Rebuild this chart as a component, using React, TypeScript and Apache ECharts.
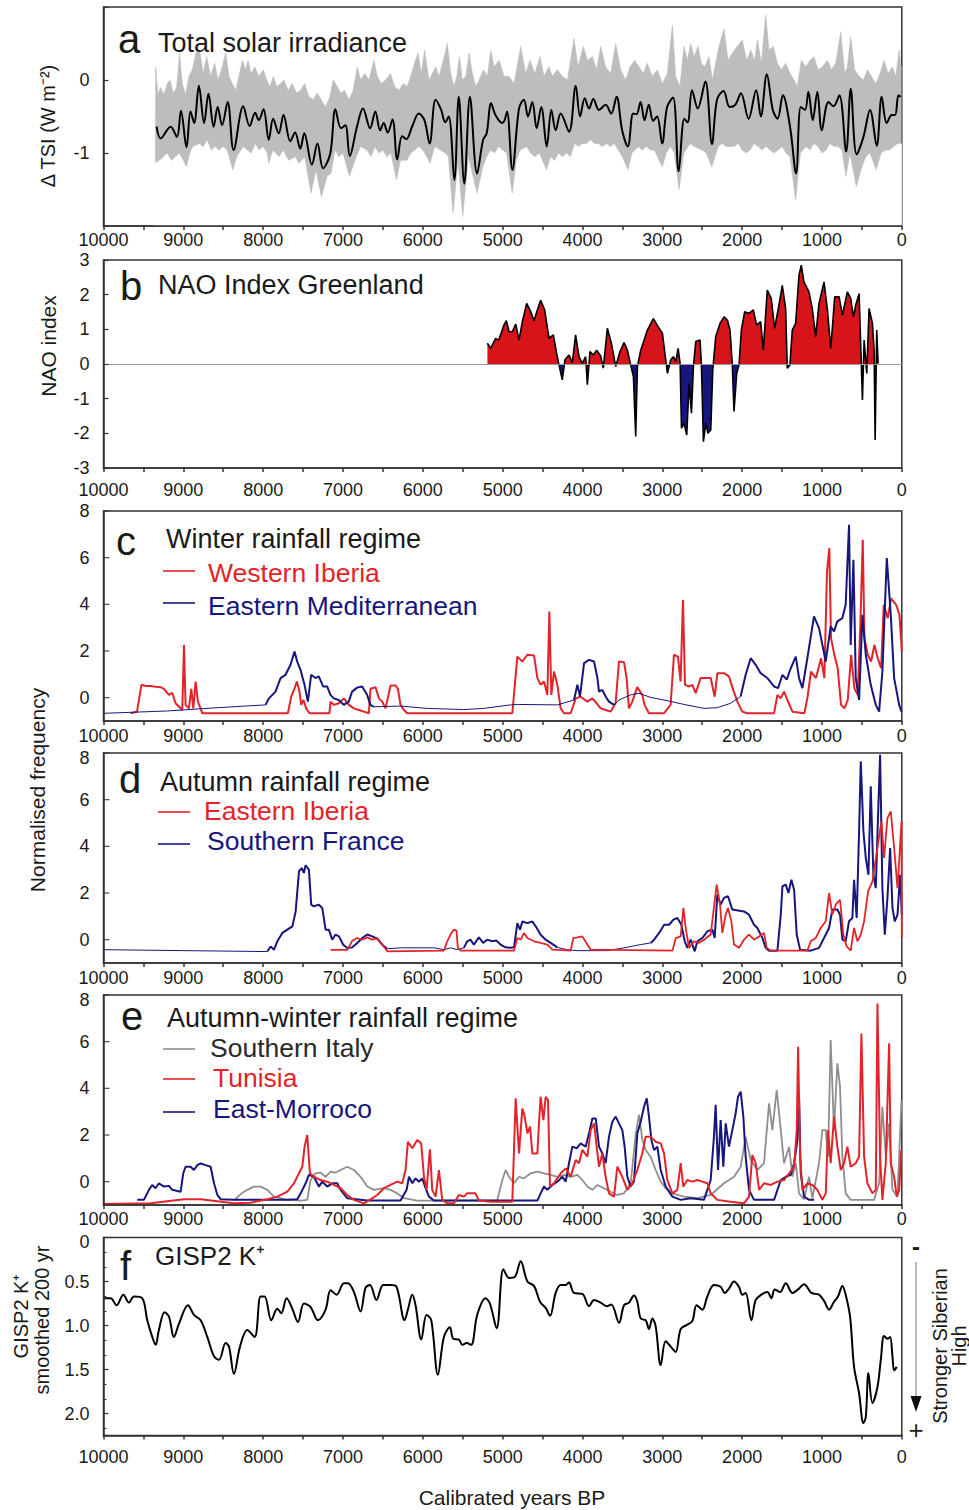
import React, { useEffect, useRef } from 'react';
import * as echarts from 'echarts';

// ---------------- DATA ----------------
// Panel a: Total solar irradiance (smoothed, and gray envelope)
const TSI_SMOOTH: number[][] = [[9335,-0.64],[9285,-0.80],[9160,-0.64],[9080,-0.78],[9030,-0.42],[8960,-0.92],[8910,-0.43],[8865,-0.59],[8805,-0.08],[8740,-0.59],[8685,-0.19],[8620,-0.64],[8570,-0.37],[8515,-0.62],[8445,-0.30],[8370,-0.96],[8250,-0.36],[8170,-0.63],[8100,-0.45],[8055,-0.55],[7995,-0.40],[7930,-0.82],[7875,-0.53],[7805,-0.73],[7745,-0.48],[7660,-0.84],[7600,-0.72],[7535,-0.94],[7485,-0.73],[7390,-1.16],[7320,-0.87],[7250,-1.21],[7160,-1.01],[7095,-0.40],[7025,-0.66],[6970,-0.62],[6915,-1.04],[6825,-0.64],[6750,-0.39],[6660,-0.66],[6595,-0.43],[6535,-0.69],[6490,-0.59],[6440,-0.72],[6380,-0.54],[6320,-1.09],[6260,-0.77],[6205,-0.81],[6135,-0.64],[6050,-0.46],[5980,-0.55],[5915,-0.87],[5840,-0.27],[5770,-0.41],[5720,-0.58],[5675,-0.50],[5605,-1.37],[5550,-0.23],[5480,-1.42],[5410,-0.23],[5320,-1.28],[5245,-0.82],[5200,-0.73],[5145,-0.32],[5090,-0.48],[5005,-0.59],[4975,-0.55],[4945,-0.43],[4878,-1.23],[4795,-0.39],[4733,-0.27],[4683,-0.50],[4628,-0.30],[4574,-0.66],[4516,-0.37],[4448,-0.91],[4390,-0.41],[4336,-0.69],[4273,-0.46],[4168,-0.71],[4085,-0.08],[4030,-0.50],[3972,-0.25],[3918,-0.39],[3864,-0.26],[3793,-0.41],[3710,-0.34],[3640,-0.46],[3573,-0.23],[3503,-0.69],[3432,-0.91],[3365,-0.46],[3323,-0.47],[3273,-0.30],[3223,-0.55],[3169,-0.34],[3115,-0.56],[3065,-0.50],[3002,-0.87],[2940,-0.37],[2865,-0.24],[2795,-1.25],[2724,-0.53],[2683,-0.58],[2628,-0.14],[2557,-0.39],[2461,-0.02],[2378,-0.88],[2315,-0.27],[2232,-0.15],[2157,-0.37],[2086,-0.34],[2015,-0.18],[1920,-0.53],[1824,-0.14],[1766,-0.50],[1691,0.08],[1616,-0.41],[1557,-0.53],[1490,-0.21],[1400,-0.64],[1325,-1.28],[1266,-0.37],[1212,-0.41],[1170,-0.16],[1116,-0.55],[1058,-0.16],[1003,-0.69],[919,-0.30],[857,-0.36],[782,-0.21],[697,-0.98],[640,-0.12],[565,-1.02],[481,-0.78],[398,-0.41],[314,-0.90],[252,-0.23],[189,-0.59],[126,-0.48],[84,-0.48],[42,-0.21],[13,-0.23]];

const TSI_UPPER: number[][] = [[9350,-1.10],[9347,0.18],[9318,-0.20],[9285,-0.10],[9243,-0.20],[9201,-0.05],[9168,0.00],[9126,-0.18],[9084,-0.10],[9047,0.37],[9013,-0.05],[8972,-0.20],[8930,0.05],[8888,0.14],[8834,0.41],[8792,0.37],[8750,0.09],[8709,0.32],[8658,0.05],[8608,0.23],[8566,0.00],[8524,0.14],[8470,0.37],[8428,0.05],[8387,-0.05],[8345,-0.14],[8303,0.05],[8261,0.27],[8219,0.14],[8190,0.27],[8148,0.09],[8107,0.18],[8053,0.05],[7998,0.14],[7957,0.00],[7915,-0.09],[7873,0.05],[7831,-0.09],[7781,-0.05],[7739,0.00],[7689,-0.14],[7635,-0.05],[7581,-0.18],[7531,-0.14],[7481,-0.05],[7426,-0.23],[7372,-0.27],[7322,-0.18],[7272,-0.27],[7218,-0.37],[7164,-0.23],[7122,0.00],[7072,-0.09],[7030,-0.18],[6980,-0.14],[6926,-0.27],[6872,-0.14],[6821,0.18],[6779,0.00],[6729,0.09],[6675,0.00],[6612,0.27],[6571,0.05],[6521,-0.05],[6466,0.00],[6404,0.09],[6354,-0.09],[6300,-0.14],[6245,-0.05],[6195,-0.09],[6153,0.05],[6103,0.23],[6061,0.37],[6019,0.09],[5977,0.41],[5923,0.00],[5881,0.09],[5839,0.18],[5797,0.05],[5743,0.27],[5693,0.50],[5651,0.09],[5609,-0.09],[5575,0.05],[5542,0.32],[5504,0.00],[5462,0.05],[5420,0.37],[5379,0.09],[5337,-0.09],[5295,0.00],[5241,0.14],[5191,0.05],[5149,0.41],[5107,0.18],[5044,0.27],[4982,0.05],[4920,0.05],[4858,-0.05],[4774,0.46],[4712,0.09],[4657,0.27],[4598,0.09],[4532,0.32],[4482,0.05],[4420,0.18],[4378,0.05],[4315,0.14],[4252,0.05],[4189,0.00],[4106,0.57],[4056,0.18],[3989,0.46],[3939,0.27],[3876,0.32],[3822,0.14],[3772,0.46],[3710,0.18],[3647,0.09],[3584,0.50],[3522,0.14],[3459,0.00],[3405,0.18],[3346,0.27],[3292,0.18],[3238,0.09],[3188,0.23],[3125,0.05],[3063,0.14],[3000,-0.05],[2937,0.09],[2874,0.75],[2833,0.05],[2779,-0.09],[2729,0.46],[2687,0.27],[2645,0.50],[2603,0.32],[2553,0.46],[2511,0.23],[2469,0.18],[2415,0.32],[2373,0.00],[2332,0.23],[2290,0.46],[2227,0.70],[2177,0.27],[2123,0.37],[2060,0.46],[1998,0.55],[1944,0.27],[1893,0.41],[1843,0.27],[1809,0.55],[1759,0.23],[1705,0.89],[1663,0.41],[1609,0.46],[1558,0.23],[1508,0.14],[1454,0.23],[1400,0.09],[1350,0.00],[1308,-0.09],[1258,0.27],[1203,0.18],[1149,0.27],[1099,0.32],[1049,0.14],[995,0.18],[932,0.27],[882,0.14],[828,0.23],[765,0.66],[715,0.09],[682,0.18],[640,0.59],[590,0.14],[535,0.05],[481,0.00],[431,0.14],[381,0.05],[326,-0.05],[272,0.09],[222,0.27],[172,0.09],[117,0.18],[75,0.05],[33,0.41],[4,0.14]];

const TSI_LOWER: number[][] = [[9365,-1.14],[9300,-1.10],[9250,-1.05],[9200,-1.00],[9150,-1.10],[9100,-1.05],[9050,-1.00],[9000,-1.10],[8960,-1.19],[8920,-1.00],[8880,-0.91],[8800,-0.87],[8750,-0.91],[8700,-0.82],[8650,-0.96],[8600,-0.91],[8550,-0.96],[8500,-0.91],[8450,-0.96],[8380,-1.23],[8330,-1.05],[8250,-0.91],[8200,-0.96],[8150,-1.00],[8100,-0.87],[8050,-0.96],[8000,-0.91],[7950,-1.00],[7930,-1.14],[7880,-0.96],[7800,-1.05],[7750,-0.96],[7680,-1.10],[7600,-1.05],[7550,-1.14],[7480,-1.05],[7400,-1.55],[7340,-1.23],[7270,-1.60],[7200,-1.32],[7150,-1.28],[7100,-0.96],[7050,-1.05],[7000,-1.00],[6920,-1.32],[6850,-1.10],[6780,-0.91],[6700,-0.96],[6650,-1.05],[6600,-0.91],[6550,-1.00],[6500,-0.96],[6450,-1.05],[6400,-1.00],[6330,-1.37],[6280,-1.10],[6200,-1.10],[6150,-1.00],[6100,-0.96],[6050,-0.91],[6000,-0.96],[5950,-1.05],[5910,-1.14],[5850,-0.91],[5780,-0.96],[5720,-1.00],[5680,-1.05],[5620,-1.83],[5560,-1.10],[5500,-1.87],[5430,-1.05],[5320,-1.55],[5250,-1.19],[5200,-1.05],[5150,-0.96],[5100,-1.00],[5050,-0.91],[5000,-0.96],[4950,-1.00],[4880,-1.55],[4830,-1.10],[4780,-0.96],[4700,-0.91],[4650,-1.00],[4600,-1.05],[4540,-1.00],[4450,-1.23],[4400,-1.05],[4350,-1.10],[4300,-1.00],[4250,-1.05],[4200,-1.00],[4150,-1.05],[4100,-0.87],[4050,-0.91],[4000,-0.87],[3950,-0.87],[3900,-0.82],[3850,-0.87],[3800,-0.87],[3750,-0.91],[3700,-0.87],[3650,-0.91],[3600,-0.87],[3550,-0.96],[3500,-1.05],[3430,-1.23],[3380,-1.00],[3300,-0.91],[3250,-0.96],[3200,-0.91],[3150,-0.96],[3100,-0.96],[3000,-1.19],[2950,-1.00],[2900,-0.91],[2850,-1.00],[2790,-1.50],[2730,-1.00],[2650,-0.87],[2600,-0.91],[2500,-0.96],[2450,-1.00],[2380,-1.19],[2300,-0.91],[2250,-0.87],[2200,-0.91],[2100,-0.91],[2050,-0.87],[2000,-0.96],[1950,-1.00],[1900,-0.96],[1850,-0.87],[1800,-0.91],[1750,-0.96],[1700,-0.91],[1650,-0.96],[1600,-1.00],[1550,-0.96],[1500,-0.91],[1450,-1.00],[1400,-1.05],[1330,-1.64],[1270,-1.00],[1200,-0.91],[1150,-0.96],[1100,-0.87],[1050,-0.91],[1000,-1.00],[950,-0.96],[900,-0.87],[850,-0.91],[800,-0.91],[750,-0.96],[700,-1.32],[650,-1.00],[570,-1.46],[500,-1.19],[450,-1.05],[400,-1.00],[320,-1.23],[260,-1.00],[200,-0.96],[150,-0.96],[100,-0.91],[50,-0.87],[0,-0.87]];

// Panel b: NAO index Greenland
const NAO: number[][] = [[5191,0.60],[5150,0.45],[5088,0.74],[5048,0.69],[4985,1.12],[4953,1.25],[4920,0.93],[4880,0.93],[4836,1.15],[4795,0.69],[4753,1.22],[4699,1.75],[4649,1.51],[4607,1.25],[4565,1.56],[4524,1.84],[4474,1.56],[4419,0.74],[4365,0.84],[4324,0.31],[4294,-0.03],[4253,-0.46],[4220,0.12],[4169,0.26],[4127,0.04],[4086,0.84],[4044,0.21],[4002,0.02],[3960,0.21],[3939,-0.60],[3906,0.36],[3864,0.26],[3822,0.40],[3772,0.23],[3739,-0.12],[3688,1.03],[3638,0.60],[3584,-0.07],[3530,0.36],[3479,0.62],[3438,0.40],[3396,-0.03],[3362,-0.36],[3333,-2.09],[3312,-0.07],[3270,0.40],[3187,0.98],[3112,1.31],[3040,1.03],[2998,0.88],[2936,-0.27],[2894,0.12],[2861,0.21],[2831,0.07],[2802,0.45],[2777,0.02],[2760,-1.85],[2727,-1.71],[2694,-2.05],[2664,-0.56],[2635,-1.42],[2610,-0.07],[2581,0.65],[2527,0.69],[2510,-0.03],[2485,-2.24],[2456,-1.71],[2427,-2.00],[2393,-1.90],[2368,-0.17],[2331,0.79],[2277,1.17],[2227,1.36],[2185,1.27],[2152,0.98],[2123,-0.03],[2102,-1.37],[2068,-0.27],[2039,-0.03],[2010,0.98],[1968,1.51],[1914,1.46],[1860,1.56],[1818,1.12],[1768,1.22],[1735,0.40],[1685,2.13],[1635,1.89],[1593,1.03],[1539,1.70],[1497,2.27],[1455,1.60],[1435,-0.12],[1401,-0.03],[1372,0.98],[1330,1.17],[1288,2.56],[1259,2.85],[1226,2.37],[1163,2.08],[1121,1.60],[1079,0.79],[1037,1.75],[974,2.37],[932,1.56],[890,0.45],[840,1.94],[786,1.94],[744,1.41],[682,2.08],[640,1.89],[606,1.36],[577,1.70],[535,2.03],[514,0.50],[493,-1.04],[472,0.69],[439,-0.27],[410,1.60],[368,1.17],[347,0.40],[334,-2.19],[314,0.98],[297,0.02]];

// Panel c: Winter rainfall regime
const WESTERN_IBERIA: number[][] = [[9661,-0.67],[9580,-0.60],[9525,0.55],[9470,0.50],[9410,0.50],[9347,0.47],[9285,0.45],[9243,0.38],[9180,0.12],[9139,0.21],[9097,-0.24],[9013,-0.53],[8992,2.26],[8972,-0.31],[8930,-0.46],[8900,0.38],[8875,-0.46],[8846,0.69],[8817,-0.17],[8792,-0.39],[8762,-0.67],[7690,-0.67],[7649,0.04],[7607,0.40],[7578,0.69],[7545,0.26],[7524,-0.31],[7495,-0.10],[7461,-0.46],[7420,-0.67],[7170,-0.67],[7156,-0.17],[7114,-0.31],[7052,-0.24],[6989,-0.03],[6926,-0.31],[6864,-0.46],[6801,-0.53],[6738,-0.60],[6676,-0.67],[6655,0.38],[6592,0.45],[6550,-0.03],[6508,-0.17],[6467,-0.46],[6404,0.52],[6341,0.52],[6312,0.38],[6279,-0.31],[6237,-0.53],[6195,-0.67],[4879,-0.67],[4816,1.76],[4753,1.55],[4690,1.84],[4607,1.81],[4565,0.84],[4524,0.55],[4482,0.69],[4440,0.12],[4415,3.69],[4390,0.12],[4357,1.12],[4315,0.55],[4273,-0.46],[4231,-0.67],[4148,-0.67],[4085,-0.03],[4023,0.04],[3939,-0.17],[3876,-0.03],[3822,-0.24],[3772,-0.46],[3710,-0.53],[3648,-0.60],[3585,-0.24],[3543,1.55],[3480,1.52],[3447,0.84],[3418,-0.46],[3376,-0.17],[3314,0.45],[3251,0.12],[3222,-0.31],[3168,-0.67],[2980,-0.67],[2896,-0.31],[2854,1.84],[2804,1.76],[2771,0.69],[2741,4.19],[2716,0.55],[2666,0.48],[2624,0.55],[2582,0.19],[2520,0.84],[2457,0.84],[2394,0.84],[2344,0.04],[2311,1.05],[2227,1.05],[2165,0.91],[2123,0.45],[2060,-0.17],[1998,-0.60],[1935,-0.67],[1600,-0.67],[1558,0.12],[1516,-0.03],[1475,0.26],[1433,-0.10],[1370,-0.60],[1220,-0.67],[1180,0.04],[1138,1.12],[1075,0.84],[1012,1.69],[970,0.84],[937,5.41],[908,6.41],[887,2.55],[845,1.84],[803,1.26],[761,-0.31],[719,-0.46],[677,-0.10],[635,1.84],[594,0.40],[552,0.12],[518,3.26],[489,6.77],[468,2.55],[426,1.84],[384,1.55],[343,2.26],[301,1.69],[259,1.26],[226,3.98],[176,3.41],[134,4.26],[71,3.98],[29,3.55],[0,2.00]];

const EAST_MED_THIN_1: number[][] = [[9995,-0.67],[9200,-0.57],[8575,-0.43],[7970,-0.31]];
const EAST_MED_THICK_1: number[][] = [[7970,-0.31],[7928,-0.03],[7845,0.26],[7782,0.84],[7720,0.98],[7657,1.41],[7607,1.98],[7574,1.55],[7532,1.19],[7482,0.55],[7440,-0.17],[7399,0.98],[7345,0.84],[7303,0.91],[7249,0.48],[7199,0.48],[7157,0.12],[7115,-0.03],[7053,-0.10],[6990,-0.31],[6928,-0.17],[6886,0.26],[6823,0.43],[6760,0.48],[6698,0.12],[6656,-0.31],[6614,-0.39]];
const EAST_MED_THIN_2: number[][] = [[6614,-0.39],[6280,-0.36],[5946,-0.46],[5487,-0.51],[5236,-0.46],[4902,-0.31],[4816,-0.29],[4315,-0.31],[4106,-0.10]];
const EAST_MED_THICK_2: number[][] = [[4106,-0.10],[4064,0.55],[4031,0.05],[3980,1.48],[3918,1.62],[3855,1.55],[3813,0.84],[3793,0.26],[3751,0.33],[3710,0.05],[3668,-0.17],[3605,-0.31]];
const EAST_MED_THIN_3: number[][] = [[3605,-0.31],[3543,-0.10],[3397,0.12],[3293,0.19],[3145,0.01],[2980,-0.10],[2727,-0.29],[2478,-0.46],[2311,-0.43],[2144,-0.24],[2019,0.05]];
const EAST_MED_THICK_3: number[][] = [[2019,0.05],[1956,0.98],[1893,1.69],[1830,1.41],[1768,1.05],[1684,0.84],[1600,0.48],[1550,0.41],[1495,0.98],[1441,0.77],[1391,1.26],[1328,1.76],[1287,0.84],[1245,0.41],[1183,1.69],[1100,3.48],[1037,2.98],[953,1.55],[891,3.05],[849,2.84],[807,3.27],[744,3.41],[703,3.98],[661,7.41],[640,2.26],[606,5.91],[577,0.84],[535,-0.10],[493,3.55],[451,1.84],[389,0.55],[326,-0.31],[284,-0.60],[243,1.12],[188,5.98],[138,3.55],[96,0.84],[33,-0.31],[4,-0.60]];

// Panel d: Autumn rainfall regime
const EASTERN_IBERIA: number[][] = [[7156,-0.44],[6947,-0.44],[6884,-0.05],[6821,0.07],[6759,0.00],[6696,0.10],[6634,0.00],[6571,0.07],[6508,-0.21],[6446,-0.50],[5736,-0.47],[5694,-0.07],[5653,0.22],[5611,0.43],[5578,0.39],[5561,-0.35],[5527,-0.47],[4857,-0.47],[4816,0.07],[4774,0.00],[4732,0.29],[4690,0.07],[4607,-0.07],[4524,-0.14],[4440,-0.21],[4377,-0.43],[4148,-0.47],[4114,0.07],[4064,0.10],[4002,0.14],[3939,-0.21],[3897,-0.43],[2873,-0.47],[2831,0.07],[2770,0.14],[2736,1.36],[2707,0.50],[2666,-0.35],[2603,-0.07],[2540,-0.14],[2478,0.00],[2394,0.22],[2344,1.64],[2319,2.36],[2277,1.50],[2248,0.29],[2206,1.07],[2177,1.36],[2135,0.79],[2102,-0.21],[2039,-0.35],[1977,0.00],[1914,0.22],[1851,0.00],[1788,0.14],[1726,0.29],[1692,-0.35],[1642,-0.47],[1183,-0.47],[1140,-0.07],[1079,0.07],[1016,0.50],[953,0.79],[911,2.00],[870,1.07],[828,1.50],[774,1.71],[732,0.21],[690,-0.29],[640,-0.47],[598,0.50],[556,-0.07],[514,0.21],[472,0.79],[422,2.07],[368,2.50],[305,3.93],[255,5.07],[222,3.50],[180,5.21],[138,5.50],[96,3.93],[54,2.21],[33,3.36],[4,5.07],[0,0.07]];

const S_FRANCE_THIN_1: number[][] = [[9995,-0.43],[8993,-0.47],[7948,-0.51]];
const S_FRANCE_THICK_1: number[][] = [[7948,-0.51],[7906,-0.29],[7864,-0.43],[7822,-0.07],[7760,0.29],[7697,0.43],[7634,0.57],[7593,1.21],[7551,2.93],[7518,3.07],[7490,2.86],[7469,3.19],[7427,3.00],[7398,1.50],[7365,1.43],[7302,1.50],[7260,1.36],[7218,0.43],[7177,0.43],[7135,0.00],[7093,0.22],[7051,0.14],[6997,-0.22],[6947,-0.36],[6884,-0.33],[6821,-0.14],[6759,0.07],[6696,0.22],[6634,0.14],[6571,0.04],[6508,-0.22],[6446,-0.39]];
const S_FRANCE_THIN_2: number[][] = [[6446,-0.39],[6279,-0.35],[5861,-0.35],[5736,-0.43],[5653,-0.35],[5569,-0.43],[5486,-0.35]];
const S_FRANCE_THICK_2: number[][] = [[5486,-0.35],[5444,-0.07],[5403,0.00],[5361,-0.21],[5298,0.10],[5244,-0.14],[5194,0.00],[5131,-0.07],[5077,-0.04],[5027,-0.21],[4965,-0.33],[4902,-0.35],[4857,-0.33],[4816,0.71],[4782,0.43],[4753,0.78],[4690,0.71],[4628,0.78],[4586,0.57],[4524,0.21],[4461,0.00],[4398,-0.14],[4315,-0.33]];
const S_FRANCE_THIN_3: number[][] = [[4315,-0.33],[4189,-0.43],[4064,-0.47],[3897,-0.47],[3688,-0.47],[3479,-0.35],[3270,-0.21],[3145,-0.14]];
const S_FRANCE_THICK_3: number[][] = [[3145,-0.14],[3103,0.00],[3040,0.29],[2977,0.64],[2915,0.64],[2861,0.86],[2811,0.93],[2761,0.64],[2719,-0.07],[2686,-0.35],[2645,0.00],[2594,-0.50],[2561,-0.07],[2499,0.07],[2436,0.36],[2373,0.43],[2344,0.07],[2311,1.93],[2269,1.50],[2227,1.79],[2177,1.86],[2123,1.29],[1977,1.21],[1914,1.07],[1851,0.64],[1809,0.50],[1746,0.07],[1705,-0.35],[1663,-0.47],[1558,-0.47],[1516,1.07],[1495,2.29],[1453,2.36],[1420,2.00],[1383,2.57],[1349,2.14],[1316,0.21],[1274,-0.43],[1140,-0.47],[1037,-0.35],[974,0.07],[911,0.50],[870,1.29],[807,1.29],[774,1.07],[744,0.00],[703,-0.07],[661,0.79],[619,0.93],[598,2.57],[565,0.93],[535,4.64],[514,7.64],[481,4.64],[451,3.50],[418,2.78],[389,6.57],[356,2.78],[326,2.21],[297,5.36],[272,7.92],[243,2.21],[213,0.21],[180,1.79],[146,3.93],[117,1.36],[88,0.78],[54,1.07],[21,2.78],[0,1.07]];

// Panel e: Autumn-winter rainfall regime
const SOUTHERN_ITALY: number[][] = [[8366,-0.81],[8282,-0.53],[8199,-0.35],[8115,-0.21],[8032,-0.21],[7948,-0.35],[7865,-0.64],[7697,-0.78],[7530,-0.81],[7448,-0.78],[7406,0.07],[7343,0.36],[7281,0.39],[7218,0.21],[7155,0.43],[7093,0.39],[7030,0.50],[6947,0.64],[6863,0.50],[6780,0.21],[6696,-0.21],[6613,-0.35],[6488,-0.28],[6404,-0.35],[6321,-0.50],[6237,-0.71],[6070,-0.81],[5444,-0.81],[5069,-0.81],[5004,0.07],[4962,0.50],[4920,0.21],[4858,-0.07],[4795,0.21],[4733,0.14],[4649,0.36],[4565,0.43],[4482,0.36],[4398,0.29],[4315,0.21],[4231,0.29],[4148,0.21],[4064,0.29],[4002,0.07],[3939,-0.21],[3876,-0.35],[3813,-0.14],[3730,-0.28],[3647,-0.43],[3563,-0.57],[3480,-0.50],[3396,-0.07],[3334,2.00],[3292,2.86],[3250,1.79],[3209,1.36],[3146,1.07],[3083,0.50],[3020,0.00],[2958,-0.28],[2874,-0.50],[2728,-0.64],[2561,-0.71],[2394,-0.57],[2227,-0.07],[2102,0.21],[2018,0.64],[1956,1.93],[1893,0.93],[1809,0.50],[1726,0.79],[1663,3.36],[1621,2.21],[1567,3.93],[1516,2.21],[1475,0.79],[1412,1.50],[1370,0.21],[1328,0.79],[1287,-0.50],[1224,-0.76],[1162,0.21],[1120,-0.71],[1037,0.79],[995,2.21],[953,2.21],[924,1.07],[891,6.07],[849,2.21],[807,5.07],[774,4.07],[744,1.07],[703,-0.50],[640,-0.78],[347,-0.78],[284,-0.07],[243,3.21],[200,1.07],[159,2.50],[117,-0.35],[54,-0.64],[4,3.50]];

const TUNISIA: number[][] = [[10000,-0.96],[9410,-0.93],[9201,-0.84],[8992,-0.75],[8783,-0.75],[8574,-0.84],[8366,-0.93],[8157,-0.90],[7948,-0.75],[7823,-0.64],[7697,-0.43],[7614,-0.07],[7551,0.36],[7510,0.64],[7481,1.50],[7448,2.00],[7414,0.36],[7364,0.21],[7281,0.07],[7197,0.00],[7114,-0.14],[7030,-0.28],[6947,-0.57],[6863,-0.78],[6738,-0.93],[6655,-0.76],[6571,-0.57],[6488,-0.28],[6404,-0.14],[6321,0.00],[6258,-0.07],[6216,0.50],[6187,1.71],[6132,1.43],[6070,1.79],[6020,1.64],[5986,0.21],[5953,-0.35],[5911,1.39],[5882,-0.35],[5840,-0.64],[5798,0.50],[5757,-0.78],[5694,-0.93],[5611,-0.93],[5548,-0.57],[5486,-0.64],[5444,-0.50],[5340,-0.50],[5298,-0.81],[5150,-0.86],[4879,-0.86],[4837,3.57],[4795,1.21],[4753,3.14],[4724,2.79],[4690,2.07],[4657,2.36],[4628,1.21],[4565,1.21],[4545,2.50],[4524,3.64],[4490,2.64],[4461,3.64],[4432,3.50],[4407,-0.21],[4357,-0.07],[4273,0.36],[4210,0.57],[4148,0.21],[4085,0.93],[4044,0.79],[4002,1.36],[3939,1.07],[3897,2.21],[3855,2.50],[3822,1.50],[3793,0.64],[3751,1.21],[3710,0.21],[3668,-0.50],[3605,-0.64],[3563,0.64],[3501,0.21],[3438,-0.35],[3376,-0.07],[3313,0.50],[3251,1.21],[3209,1.93],[3146,1.93],[3083,1.71],[3020,1.64],[2978,1.21],[2937,0.07],[2874,-0.50],[2812,-0.35],[2770,0.79],[2737,-0.21],[2687,0.07],[2624,0.00],[2561,0.07],[2499,0.00],[2436,-0.07],[2394,-0.50],[2311,-0.78],[2144,-0.86],[1977,-0.93],[1914,-0.64],[1872,1.14],[1830,0.79],[1788,-0.35],[1726,-0.07],[1642,-0.14],[1558,0.00],[1475,0.07],[1412,0.36],[1349,0.64],[1316,2.21],[1299,5.78],[1274,1.07],[1245,-0.35],[1183,-0.07],[1120,-0.14],[1058,-0.35],[995,-0.78],[953,-0.50],[924,2.21],[891,0.79],[849,2.79],[807,1.50],[765,0.50],[723,0.79],[682,1.50],[640,0.64],[577,0.79],[535,1.07],[506,6.35],[472,1.07],[431,-0.07],[368,-0.50],[326,-0.35],[305,7.64],[272,1.07],[243,-0.78],[201,0.79],[159,5.93],[138,0.79],[96,0.21],[63,-0.64],[33,-0.35],[8,1.36]];

const EAST_MOROCCO: number[][] = [[9577,-0.78],[9494,-0.78],[9431,-0.35],[9390,-0.14],[9348,-0.28],[9306,-0.07],[9243,-0.21],[9180,-0.18],[9139,-0.35],[9034,-0.43],[9001,0.36],[8972,0.64],[8909,0.64],[8867,0.50],[8825,0.71],[8783,0.78],[8721,0.71],[8658,0.64],[8616,-0.07],[8574,-0.57],[8533,-0.75],[8366,-0.78],[7948,-0.78],[7697,-0.78],[7572,-0.75],[7530,-0.50],[7468,-0.07],[7427,0.29],[7364,0.21],[7302,-0.21],[7260,0.00],[7197,-0.21],[7135,-0.07],[7072,-0.07],[7030,-0.35],[6947,-0.71],[6696,-0.81],[6279,-0.81],[6203,-0.35],[6174,0.21],[6132,-0.07],[6091,0.14],[6049,0.00],[6007,0.14],[5965,-0.28],[5923,-0.64],[5861,-0.81],[5150,-0.81],[4565,-0.81],[4524,-0.50],[4482,-0.21],[4440,-0.35],[4377,-0.14],[4315,0.00],[4252,0.21],[4210,0.00],[4169,0.79],[4127,1.50],[4073,1.43],[4023,1.64],[3960,1.50],[3918,2.07],[3876,2.71],[3834,2.71],[3793,1.50],[3751,1.21],[3710,0.79],[3668,1.93],[3626,2.57],[3584,2.79],[3543,2.50],[3501,2.21],[3472,1.50],[3438,0.21],[3396,-0.21],[3355,0.00],[3313,2.07],[3271,2.57],[3229,3.21],[3195,3.57],[3167,2.79],[3137,1.79],[3104,1.36],[3062,1.50],[3020,0.50],[2958,-0.21],[2874,-0.64],[2770,-0.78],[2645,-0.71],[2478,-0.78],[2394,0.07],[2353,1.93],[2332,3.29],[2302,0.50],[2269,2.64],[2236,0.64],[2206,2.50],[2165,1.50],[2123,2.21],[2081,2.93],[2052,3.64],[2018,3.86],[1985,2.79],[1956,1.07],[1914,-0.35],[1851,-0.78],[1600,-0.78],[1516,0.07],[1453,0.21],[1391,0.29],[1349,0.79],[1307,1.79],[1287,3.64],[1266,0.36],[1224,-0.64],[1162,-0.78],[1099,-0.78]];

// Panel f: GISP2 K+ smoothed 200 yr
const GISP2_K: number[][] = [[9995,0.69],[9911,0.69],[9836,0.77],[9752,0.65],[9681,0.74],[9619,0.67],[9514,0.69],[9452,0.94],[9389,1.13],[9347,1.22],[9306,1.05],[9235,0.85],[9180,0.90],[9118,1.13],[9055,0.98],[8942,0.77],[8867,0.88],[8783,0.94],[8700,1.13],[8616,1.35],[8553,1.39],[8470,1.20],[8428,1.24],[8366,1.55],[8290,1.24],[8199,1.05],[8107,1.13],[8032,0.67],[7982,0.67],[7898,0.94],[7823,0.81],[7773,0.86],[7706,0.69],[7635,0.81],[7564,0.96],[7489,0.75],[7406,0.79],[7314,0.94],[7218,0.82],[7155,0.60],[7080,0.65],[6988,0.52],[6938,0.52],[6863,0.62],[6780,0.84],[6717,0.57],[6663,0.54],[6580,0.71],[6496,0.54],[6404,0.54],[6329,0.56],[6229,0.94],[6187,0.82],[6132,0.65],[6091,0.77],[6019,1.16],[5953,0.88],[5894,0.94],[5811,1.56],[5736,1.13],[5661,1.02],[5619,1.15],[5548,1.16],[5506,1.22],[5452,1.20],[5394,1.22],[5319,0.88],[5215,0.69],[5160,0.75],[5075,1.03],[4991,0.36],[4920,0.46],[4849,0.45],[4774,0.27],[4690,0.50],[4607,0.55],[4532,0.73],[4461,0.80],[4407,0.89],[4336,0.63],[4273,0.54],[4211,0.54],[4169,0.51],[4106,0.63],[4002,0.64],[3918,0.78],[3855,0.71],[3772,0.74],[3697,0.78],[3639,0.76],[3542,0.97],[3480,0.77],[3417,0.74],[3355,0.66],[3313,0.73],[3271,0.92],[3209,0.94],[3167,1.04],[3125,0.92],[3083,1.01],[3020,1.45],[2958,1.18],[2895,1.24],[2833,1.30],[2770,1.04],[2687,0.99],[2624,0.95],[2570,0.77],[2499,0.82],[2436,0.67],[2353,0.54],[2269,0.56],[2219,0.63],[2165,0.58],[2102,0.50],[2040,0.56],[1998,0.65],[1956,0.63],[1885,0.94],[1830,0.71],[1759,0.65],[1684,0.62],[1634,0.69],[1592,0.59],[1525,0.62],[1454,0.52],[1370,0.63],[1299,0.59],[1224,0.53],[1133,0.63],[1037,0.65],[974,0.72],[911,0.82],[849,0.73],[799,0.67],[744,0.55],[703,0.65],[648,0.90],[598,1.47],[535,1.77],[481,2.11],[451,2.04],[418,1.54],[368,1.88],[305,1.70],[263,1.39],[222,1.12],[180,1.15],[146,1.13],[117,1.35],[96,1.51],[63,1.47]];

// Tick label values
const YEAR_TICKS = [10000, 9000, 8000, 7000, 6000, 5000, 4000, 3000, 2000, 1000, 0];
const TSI_TICKS = [-1, 0];
const FREQ_TICKS = [0, 2, 4, 6, 8];

// ---------------- STYLE / LAYOUT ----------------
const FONT = '"Liberation Sans", Arial, Helvetica, sans-serif';
const RED = '#e2242a';
const NAO_RED = '#d8141b';
const NAVY = '#17167c';
const GRAY = '#8e8e8e';
const BAND = '#bdbdbd';
const AXIS = '#333';
const TXT = '#1a1a1a';

const LEFT = 103.5;
const WIDTH = 798.3;
const GRIDS = [
  { top: 7, height: 219, labelMargin: 5 },
  { top: 260, height: 208, labelMargin: 13 },
  { top: 511, height: 210, labelMargin: 6 },
  { top: 753, height: 210, labelMargin: 6 },
  { top: 995, height: 210, labelMargin: 5 },
  { top: 1237.5, height: 198, labelMargin: 12 },
];

function xAxisFor(i: number) {
  return {
    type: 'value', gridIndex: i, min: 0, max: 10000, inverse: true, interval: 500,
    z: 5,
    axisLine: { show: true, onZero: false, lineStyle: { color: AXIS, width: 1.5 } },
    axisTick: { show: true, inside: false, length: 4, lineStyle: { color: AXIS, width: 1.5 } },
    axisLabel: {
      show: true, fontSize: 18, color: TXT, fontFamily: FONT, margin: GRIDS[i].labelMargin,
      formatter: (v: number) => (YEAR_TICKS.indexOf(Math.round(v)) >= 0 ? String(Math.round(v)) : ''),
    },
    splitLine: { show: false },
  };
}

const yBase = {
  type: 'value', z: 5,
  axisLine: { show: true, onZero: false, lineStyle: { color: AXIS, width: 1.5 } },
  splitLine: { show: false },
};
// the topmost tick label of a panel sits a little lower, as in the reference
const yLabel = {
  fontSize: 18, color: TXT, fontFamily: FONT, margin: 14,
  rich: { t: { fontSize: 18, color: TXT, fontFamily: FONT, padding: [9, 0, 0, 0] } },
};
const yTick = { show: true, inside: true, length: 5, lineStyle: { color: AXIS, width: 1.2 } };

function lineSeries(data: number[][], grid: number, color: string, width: number, extra: any = {}) {
  return {
    type: 'line', data, xAxisIndex: grid, yAxisIndex: grid,
    showSymbol: false, symbol: 'none', silent: true, animation: false,
    lineStyle: { color, width }, itemStyle: { color },
    ...extra,
  };
}

// inward tick marks at the labelled frequency values (drawn through the axes)
function tickSeries(grid: number) {
  return {
    type: 'scatter', xAxisIndex: grid, yAxisIndex: grid, silent: true, animation: false, clip: false, z: 6,
    data: FREQ_TICKS.map((v) => [10000, v]),
    symbol: 'rect', symbolSize: [6, 1.3], symbolOffset: [3, 0],
    itemStyle: { color: AXIS },
  };
}

function txt(text: string, x: number, y: number, size: number, color = TXT, extra: any = {}) {
  return {
    type: 'text', x, y, silent: true, z: 100,
    style: { text, fill: color, fontSize: size, fontFamily: FONT, align: 'left', verticalAlign: 'middle', ...(extra.style || {}) },
    ...(extra.rotation !== undefined ? { rotation: extra.rotation } : {}),
  };
}
function seg(x1: number, x2: number, y: number, color: string) {
  return { type: 'line', silent: true, z: 100, shape: { x1, y1: y, x2, y2: y }, style: { stroke: color, lineWidth: 1.6 } };
}

export default function App() {
  const ref = useRef<HTMLDivElement>(null);
  useEffect(() => {
    if (!ref.current) return;
    const chart = echarts.init(ref.current, undefined, { renderer: 'svg' });

    const gb = GRIDS[1];
    const naoFill = new echarts.graphic.LinearGradient(0, gb.top, 0, gb.top + gb.height, [
      { offset: 0, color: NAO_RED }, { offset: 0.5, color: NAO_RED },
      { offset: 0.5, color: NAVY }, { offset: 1, color: NAVY },
    ], true);

    const series: any[] = [];
    // panel a
    series.push(lineSeries(TSI_UPPER, 0, BAND, 0.6, { areaStyle: { color: BAND, opacity: 1, origin: 'start' } }));
    series.push(lineSeries(TSI_LOWER, 0, BAND, 0.6, { areaStyle: { color: '#ffffff', opacity: 1, origin: 'start' } }));
    series.push(lineSeries(TSI_SMOOTH, 0, '#000', 2, { smooth: 0.35 }));
    // panel b
    series.push(lineSeries(NAO, 1, '#000', 1.6, {
      areaStyle: { color: naoFill, opacity: 1, origin: 0 },
      markLine: {
        silent: true, symbol: ['none', 'none'], label: { show: false },
        lineStyle: { color: '#9a9a9a', width: 1, type: 'solid' },
        data: [{ yAxis: 0 }],
      },
    }));
    // panel c
    series.push(lineSeries(WESTERN_IBERIA, 2, RED, 2));
    series.push(lineSeries(EAST_MED_THIN_1, 2, NAVY, 1));
    series.push(lineSeries(EAST_MED_THICK_1, 2, NAVY, 2));
    series.push(lineSeries(EAST_MED_THIN_2, 2, NAVY, 1));
    series.push(lineSeries(EAST_MED_THICK_2, 2, NAVY, 2));
    series.push(lineSeries(EAST_MED_THIN_3, 2, NAVY, 1));
    series.push(lineSeries(EAST_MED_THICK_3, 2, NAVY, 2));
    series.push(tickSeries(2));
    // panel d
    series.push(lineSeries(S_FRANCE_THIN_1, 3, NAVY, 1));
    series.push(lineSeries(S_FRANCE_THICK_1, 3, NAVY, 2));
    series.push(lineSeries(S_FRANCE_THIN_2, 3, NAVY, 1));
    series.push(lineSeries(S_FRANCE_THICK_2, 3, NAVY, 2));
    series.push(lineSeries(S_FRANCE_THIN_3, 3, NAVY, 1));
    series.push(lineSeries(S_FRANCE_THICK_3, 3, NAVY, 2));
    series.push(lineSeries(EASTERN_IBERIA, 3, RED, 1.8));
    series.push(tickSeries(3));
    // panel e
    series.push(lineSeries(SOUTHERN_ITALY, 4, GRAY, 1.8));
    series.push(lineSeries(EAST_MOROCCO, 4, NAVY, 2));
    series.push(lineSeries(TUNISIA, 4, RED, 2));
    series.push(tickSeries(4));
    // panel f
    series.push(lineSeries(GISP2_K, 5, '#000', 2, { smooth: 0.35 }));

    const yAxes: any[] = [
      { ...yBase, gridIndex: 0, min: -2, max: 1, interval: 1,
        axisTick: { ...yTick },
        axisLabel: { ...yLabel, formatter: (v: number) => (TSI_TICKS.indexOf(v) >= 0 ? String(v) : '') } },
      { ...yBase, gridIndex: 1, min: -3, max: 3, interval: 1,
        axisTick: { ...yTick }, axisLabel: { ...yLabel, formatter: (v: number) => String(v) } },
      ...[2, 3, 4].map((g) => ({
        ...yBase, gridIndex: g, min: -1, max: 8, interval: 1,
        axisTick: { show: false },
        axisLabel: { ...yLabel, formatter: (v: number) => {
          if (FREQ_TICKS.indexOf(v) < 0) return '';
          return v === 8 && g > 2 ? '{t|8}' : String(v);
        } },
      })),
      { ...yBase, gridIndex: 5, min: 0, max: 2.25, interval: 0.5, inverse: true,
        axisTick: { ...yTick },
        minorTick: { show: true, splitNumber: 3, length: 3, lineStyle: { color: AXIS, width: 1 } },
        axisLabel: { ...yLabel, formatter: (v: number) => {
          if (Math.abs(v * 2 - Math.round(v * 2)) > 1e-6) return '';
          return v === 0 ? '{t|0}' : v.toFixed(1);
        } } },
    ];

    const graphic: any[] = [
      // panel a
      txt('a', 118, 39, 40), txt('Total solar irradiance', 158, 43, 27),
      // panel b
      txt('b', 120, 286, 40), txt('NAO Index Greenland', 158, 285, 27),
      // panel c
      txt('c', 116, 541, 40), txt('Winter rainfall regime', 166, 539, 27),
      seg(163, 195, 571, RED), txt('Western Iberia', 208, 573, 26.5, RED),
      seg(163, 195, 603, NAVY), txt('Eastern Mediterranean', 208, 606, 26.5, NAVY),
      // panel d
      txt('d', 119, 779, 40), txt('Autumn rainfall regime', 160, 782, 27),
      seg(158, 190, 812, RED), txt('Eastern Iberia', 204, 811, 26.5, RED),
      seg(158, 190, 844, NAVY), txt('Southern France', 207, 841, 26.5, NAVY),
      // panel e
      txt('e', 121, 1016, 40), txt('Autumn-winter rainfall regime', 167, 1018, 27),
      seg(163, 195, 1049, GRAY), txt('Southern Italy', 210, 1048, 26.5, '#2a2a2a'),
      seg(163, 195, 1079, RED), txt('Tunisia', 213, 1078, 26.5, RED),
      seg(163, 195, 1112, NAVY), txt('East-Morroco', 213, 1109, 26.5, NAVY),
      // panel f
      txt('f', 120, 1266, 40), txt('GISP2 K\u207A', 155, 1256, 26),
      // axis names
      txt('\u0394 TSI (W m\u207B\u00B2)', 48, 126, 20, TXT, { rotation: Math.PI / 2, style: { align: 'center' } }),
      txt('NAO index', 48, 346, 21, TXT, { rotation: Math.PI / 2, style: { align: 'center' } }),
      txt('Normalised frequency', 37, 790, 21, TXT, { rotation: Math.PI / 2, style: { align: 'center' } }),
      txt('GISP2 K\u207A', 21, 1316, 20, TXT, { rotation: Math.PI / 2, style: { align: 'center' } }),
      txt('smoothed 200 yr', 42, 1320, 20, TXT, { rotation: Math.PI / 2, style: { align: 'center' } }),
      txt('Calibrated years BP', 512, 1497, 21, TXT, { style: { align: 'center' } }),
      // right annotation
      txt('-', 916, 1246, 24, TXT, { style: { align: 'center', fontWeight: 'bold' } }),
      { type: 'line', silent: true, z: 100, shape: { x1: 916, y1: 1262, x2: 916, y2: 1398 }, style: { stroke: '#777', lineWidth: 1 } },
      { type: 'polygon', silent: true, z: 100, shape: { points: [[910.5, 1396], [921.5, 1396], [916, 1412]] }, style: { fill: '#111' } },
      txt('+', 916, 1430, 26, TXT, { style: { align: 'center' } }),
      { type: 'text', silent: true, z: 100, x: 949, y: 1346, rotation: Math.PI / 2,
        style: { text: 'Stronger Siberian\nHigh', fill: TXT, fontSize: 20, lineHeight: 19, fontFamily: FONT, align: 'center', verticalAlign: 'middle' } },
    ];

    chart.setOption({
      animation: false,
      backgroundColor: '#fff',
      grid: GRIDS.map((g) => ({
        left: LEFT, width: WIDTH, top: g.top, height: g.height,
        show: true, borderColor: AXIS, borderWidth: 1.5, backgroundColor: 'transparent', containLabel: false,
      })),
      xAxis: GRIDS.map((_, i) => xAxisFor(i)),
      yAxis: yAxes,
      series,
      graphic,
    });
    return () => chart.dispose();
  }, []);

  return <div ref={ref} style={{ position: 'absolute', left: 0, top: 0, width: 969, height: 1510, background: '#fff' }} />;
}
